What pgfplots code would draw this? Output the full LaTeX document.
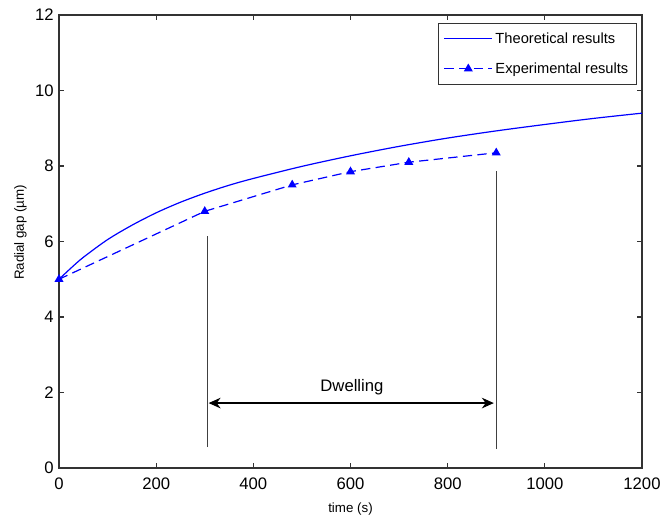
\documentclass[border=0pt]{standalone}
\usepackage{pgfplots}
\pgfplotsset{compat=1.18}
\usetikzlibrary{arrows.meta}
\usepackage{fontspec}
\setmainfont{Liberation Sans}
\begin{document}
\begin{tikzpicture}
\begin{axis}[
  at={(0,0)}, anchor=south west,
  scale only axis,
  width=437.25pt, height=339.75pt,
  xmin=0, xmax=1200, ymin=0, ymax=12,
  xtick={0,200,...,1200}, ytick={0,2,...,12},
  tick align=inside,
  major tick length=4pt,
  /pgf/number format/assume math mode=true,
  ticklabel style={font=\fontsize{12.5}{14}\selectfont},
  yticklabel style={xshift=-0.5pt},
  xticklabel style={/pgf/number format/1000 sep={}, yshift=-3.5pt},
  xlabel={time (s)}, ylabel={Radial gap (\textmu m)},
  label style={font=\fontsize{10.5}{12}\selectfont},
  every axis x label/.style={at={(axis description cs:0.5,0)}, anchor=center, yshift=-30.5pt},
  every axis y label/.style={at={(axis description cs:0,0.52)}, xshift=-29pt, anchor=center, rotate=90},
  legend style={font=\fontsize{11}{13}\selectfont, draw=black!80, line width=0.6pt,
    inner xsep=4pt, inner ysep=5pt, row sep=9pt, cells={anchor=west},
    at={(0.991,0.983)}, anchor=north east},
  legend image code/.code={\draw[mark repeat=2,mark phase=2,#1] plot coordinates {(0cm,0cm) (0.63cm,0cm) (1.26cm,0cm)};},
  axis line style={line width=0.8pt, black!80},
  every tick/.style={black!80, line width=0.8pt},
  clip=false,
]
\addplot[blue, line width=0.9pt, smooth, legend image post style={blue, line width=0.9pt}] coordinates {
(0,5.0) (25,5.3) (50,5.58) (100,6.05) (150,6.43) (200,6.76) (250,7.04) (300,7.28) (350,7.49)
(400,7.67) (500,7.99) (600,8.27) (700,8.52) (800,8.74) (900,8.93) (1000,9.1) (1100,9.26) (1200,9.4)};
\addlegendentry{Theoretical results}
\addplot[blue, line width=0.9pt, dash pattern=on 7pt off 4pt, mark=triangle*, mark size=3pt, mark options={solid}, legend image post style={blue, line width=0.9pt}] coordinates {
(0,5.0) (300,6.8) (480,7.5) (600,7.85) (720,8.1) (900,8.35)};
\addlegendentry{Experimental results}
\addplot[black!75, line width=0.9pt, forget plot] coordinates {(305,0.55) (305,6.15)};
\addplot[black!75, line width=0.9pt, forget plot] coordinates {(900,0.5) (900,7.87)};
\draw[black, line width=1pt, <->, >={Stealth[length=9pt, width=8pt]}] (axis cs:308,1.72) -- (axis cs:895,1.72);
\node[font=\fontsize{12.5}{14}\selectfont] at (axis cs:603,2.15) {Dwelling};
\end{axis}
\pgfresetboundingbox
\path (-44.25pt,-37.5pt) rectangle (456.75pt,351pt);
\end{tikzpicture}
\end{document}
